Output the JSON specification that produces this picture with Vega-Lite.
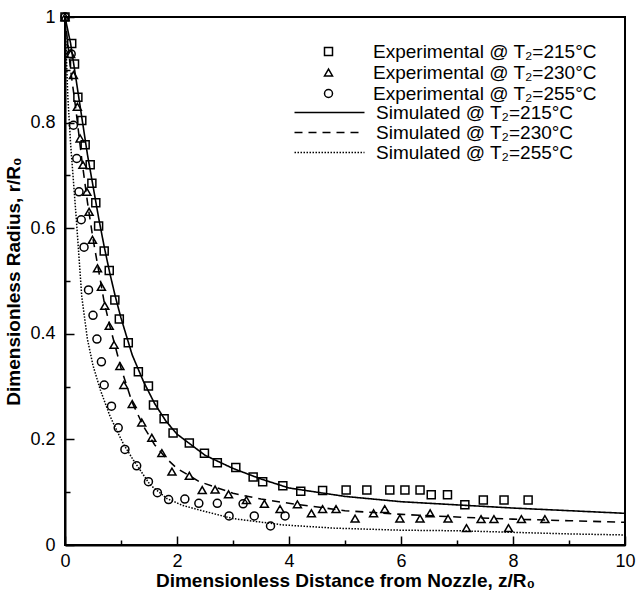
{
  "$schema": "https://vega.github.io/schema/vega-lite/v6.json",
  "width": 560,
  "height": 528,
  "autosize": {"type": "none"},
  "padding": {"left": 65, "top": 17, "right": 11, "bottom": 49},
  "background": "white",
  "config": {
    "font": "Liberation Sans",
    "view": {"stroke": "black", "strokeWidth": 2},
    "axis": {
      "domainColor": "black", "domainWidth": 2, "tickColor": "black", "tickWidth": 1.5,
      "grid": false, "labelFont": "Liberation Sans", "labelFontSize": 18, "labelColor": "black",
      "titleFont": "Liberation Sans", "titleFontSize": 19, "titleFontWeight": "bold", "titleColor": "black"
    },
    "legend": {"labelFont": "Liberation Sans", "labelFontSize": 19, "labelColor": "black", "labelLimit": 400, "rowPadding": 1, "padding": 0}
  },
  "datasets": {
    "exp": [
      {"T": "e215", "x": 0, "y": 1}, {"T": "e215", "x": 0.12, "y": 0.95}, {"T": "e215", "x": 0.17, "y": 0.911}, {"T": "e215", "x": 0.23, "y": 0.848},
      {"T": "e215", "x": 0.3, "y": 0.804}, {"T": "e215", "x": 0.36, "y": 0.758}, {"T": "e215", "x": 0.45, "y": 0.72}, {"T": "e215", "x": 0.48, "y": 0.685},
      {"T": "e215", "x": 0.55, "y": 0.648}, {"T": "e215", "x": 0.6, "y": 0.604}, {"T": "e215", "x": 0.7, "y": 0.557}, {"T": "e215", "x": 0.79, "y": 0.52},
      {"T": "e215", "x": 0.89, "y": 0.464}, {"T": "e215", "x": 0.97, "y": 0.428}, {"T": "e215", "x": 1.13, "y": 0.383}, {"T": "e215", "x": 1.31, "y": 0.328},
      {"T": "e215", "x": 1.49, "y": 0.301}, {"T": "e215", "x": 1.58, "y": 0.265}, {"T": "e215", "x": 1.77, "y": 0.239}, {"T": "e215", "x": 1.93, "y": 0.212},
      {"T": "e215", "x": 2.22, "y": 0.193}, {"T": "e215", "x": 2.49, "y": 0.174}, {"T": "e215", "x": 2.72, "y": 0.156}, {"T": "e215", "x": 3.05, "y": 0.147},
      {"T": "e215", "x": 3.36, "y": 0.129}, {"T": "e215", "x": 3.53, "y": 0.12}, {"T": "e215", "x": 3.89, "y": 0.112}, {"T": "e215", "x": 4.21, "y": 0.102},
      {"T": "e215", "x": 4.6, "y": 0.103}, {"T": "e215", "x": 5.02, "y": 0.104}, {"T": "e215", "x": 5.39, "y": 0.104}, {"T": "e215", "x": 5.8, "y": 0.104},
      {"T": "e215", "x": 6.07, "y": 0.104}, {"T": "e215", "x": 6.34, "y": 0.104}, {"T": "e215", "x": 6.54, "y": 0.095}, {"T": "e215", "x": 6.83, "y": 0.095},
      {"T": "e215", "x": 7.14, "y": 0.076}, {"T": "e215", "x": 7.47, "y": 0.085}, {"T": "e215", "x": 7.84, "y": 0.085}, {"T": "e215", "x": 8.27, "y": 0.085},
      {"T": "e230", "x": 0, "y": 1}, {"T": "e230", "x": 0.1, "y": 0.93}, {"T": "e230", "x": 0.15, "y": 0.89}, {"T": "e230", "x": 0.22, "y": 0.83},
      {"T": "e230", "x": 0.27, "y": 0.77}, {"T": "e230", "x": 0.32, "y": 0.72}, {"T": "e230", "x": 0.39, "y": 0.669}, {"T": "e230", "x": 0.43, "y": 0.631},
      {"T": "e230", "x": 0.49, "y": 0.578}, {"T": "e230", "x": 0.58, "y": 0.524}, {"T": "e230", "x": 0.65, "y": 0.489}, {"T": "e230", "x": 0.71, "y": 0.453},
      {"T": "e230", "x": 0.79, "y": 0.415}, {"T": "e230", "x": 0.875, "y": 0.379}, {"T": "e230", "x": 0.98, "y": 0.339}, {"T": "e230", "x": 1.05, "y": 0.303},
      {"T": "e230", "x": 1.2, "y": 0.267}, {"T": "e230", "x": 1.37, "y": 0.232}, {"T": "e230", "x": 1.55, "y": 0.203}, {"T": "e230", "x": 1.73, "y": 0.174},
      {"T": "e230", "x": 1.91, "y": 0.139}, {"T": "e230", "x": 2.22, "y": 0.131}, {"T": "e230", "x": 2.45, "y": 0.104}, {"T": "e230", "x": 2.68, "y": 0.105},
      {"T": "e230", "x": 2.92, "y": 0.096}, {"T": "e230", "x": 3.24, "y": 0.085}, {"T": "e230", "x": 3.56, "y": 0.078}, {"T": "e230", "x": 3.84, "y": 0.068},
      {"T": "e230", "x": 4.15, "y": 0.077}, {"T": "e230", "x": 4.4, "y": 0.06}, {"T": "e230", "x": 4.6, "y": 0.068}, {"T": "e230", "x": 4.84, "y": 0.068},
      {"T": "e230", "x": 5.18, "y": 0.05}, {"T": "e230", "x": 5.51, "y": 0.06}, {"T": "e230", "x": 5.71, "y": 0.068}, {"T": "e230", "x": 5.98, "y": 0.05},
      {"T": "e230", "x": 6.34, "y": 0.05}, {"T": "e230", "x": 6.52, "y": 0.06}, {"T": "e230", "x": 6.84, "y": 0.05}, {"T": "e230", "x": 7.17, "y": 0.032},
      {"T": "e230", "x": 7.43, "y": 0.049}, {"T": "e230", "x": 7.66, "y": 0.049}, {"T": "e230", "x": 7.92, "y": 0.032}, {"T": "e230", "x": 8.15, "y": 0.049},
      {"T": "e230", "x": 8.57, "y": 0.049},
      {"T": "e255", "x": 0, "y": 1}, {"T": "e255", "x": 0.11, "y": 0.93}, {"T": "e255", "x": 0.15, "y": 0.795}, {"T": "e255", "x": 0.21, "y": 0.732},
      {"T": "e255", "x": 0.25, "y": 0.669}, {"T": "e255", "x": 0.29, "y": 0.616}, {"T": "e255", "x": 0.34, "y": 0.564}, {"T": "e255", "x": 0.42, "y": 0.483},
      {"T": "e255", "x": 0.5, "y": 0.435}, {"T": "e255", "x": 0.57, "y": 0.39}, {"T": "e255", "x": 0.65, "y": 0.347}, {"T": "e255", "x": 0.7, "y": 0.303},
      {"T": "e255", "x": 0.83, "y": 0.263}, {"T": "e255", "x": 0.95, "y": 0.222}, {"T": "e255", "x": 1.07, "y": 0.181}, {"T": "e255", "x": 1.28, "y": 0.15},
      {"T": "e255", "x": 1.49, "y": 0.12}, {"T": "e255", "x": 1.65, "y": 0.099}, {"T": "e255", "x": 1.85, "y": 0.086}, {"T": "e255", "x": 2.14, "y": 0.087},
      {"T": "e255", "x": 2.39, "y": 0.079}, {"T": "e255", "x": 2.72, "y": 0.079}, {"T": "e255", "x": 2.93, "y": 0.055}, {"T": "e255", "x": 3.18, "y": 0.078},
      {"T": "e255", "x": 3.38, "y": 0.055}, {"T": "e255", "x": 3.67, "y": 0.036}, {"T": "e255", "x": 3.93, "y": 0.055}
    ],
    "sim": [
      {"S": "s215", "x": 0, "y": 1}, {"S": "s215", "x": 0.1, "y": 0.95}, {"S": "s215", "x": 0.2, "y": 0.88}, {"S": "s215", "x": 0.3, "y": 0.81},
      {"S": "s215", "x": 0.4, "y": 0.74}, {"S": "s215", "x": 0.5, "y": 0.68}, {"S": "s215", "x": 0.6, "y": 0.62}, {"S": "s215", "x": 0.7, "y": 0.565},
      {"S": "s215", "x": 0.8, "y": 0.515}, {"S": "s215", "x": 0.9, "y": 0.47}, {"S": "s215", "x": 1.0, "y": 0.43}, {"S": "s215", "x": 1.2, "y": 0.36},
      {"S": "s215", "x": 1.4, "y": 0.31}, {"S": "s215", "x": 1.6, "y": 0.268}, {"S": "s215", "x": 1.8, "y": 0.235}, {"S": "s215", "x": 2.0, "y": 0.21},
      {"S": "s215", "x": 2.5, "y": 0.17}, {"S": "s215", "x": 3.0, "y": 0.145}, {"S": "s215", "x": 3.5, "y": 0.125}, {"S": "s215", "x": 4.0, "y": 0.108},
      {"S": "s215", "x": 5.0, "y": 0.092}, {"S": "s215", "x": 6.0, "y": 0.082}, {"S": "s215", "x": 7.0, "y": 0.076}, {"S": "s215", "x": 8.0, "y": 0.07},
      {"S": "s215", "x": 9.0, "y": 0.065}, {"S": "s215", "x": 10.0, "y": 0.06},
      {"S": "s230", "x": 0, "y": 1}, {"S": "s230", "x": 0.1, "y": 0.9}, {"S": "s230", "x": 0.2, "y": 0.82}, {"S": "s230", "x": 0.3, "y": 0.73},
      {"S": "s230", "x": 0.4, "y": 0.65}, {"S": "s230", "x": 0.5, "y": 0.58}, {"S": "s230", "x": 0.6, "y": 0.52}, {"S": "s230", "x": 0.7, "y": 0.46},
      {"S": "s230", "x": 0.8, "y": 0.415}, {"S": "s230", "x": 0.9, "y": 0.375}, {"S": "s230", "x": 1.0, "y": 0.335}, {"S": "s230", "x": 1.2, "y": 0.27},
      {"S": "s230", "x": 1.4, "y": 0.225}, {"S": "s230", "x": 1.6, "y": 0.19}, {"S": "s230", "x": 1.8, "y": 0.165}, {"S": "s230", "x": 2.0, "y": 0.145},
      {"S": "s230", "x": 2.4, "y": 0.12}, {"S": "s230", "x": 3.0, "y": 0.098}, {"S": "s230", "x": 3.5, "y": 0.087}, {"S": "s230", "x": 4.0, "y": 0.079},
      {"S": "s230", "x": 5.0, "y": 0.065}, {"S": "s230", "x": 6.0, "y": 0.058}, {"S": "s230", "x": 7.0, "y": 0.053}, {"S": "s230", "x": 8.0, "y": 0.049},
      {"S": "s230", "x": 9.0, "y": 0.046}, {"S": "s230", "x": 10.0, "y": 0.043},
      {"S": "s255", "x": 0, "y": 1}, {"S": "s255", "x": 0.05, "y": 0.85}, {"S": "s255", "x": 0.1, "y": 0.76}, {"S": "s255", "x": 0.2, "y": 0.62},
      {"S": "s255", "x": 0.3, "y": 0.47}, {"S": "s255", "x": 0.4, "y": 0.39}, {"S": "s255", "x": 0.5, "y": 0.34}, {"S": "s255", "x": 0.63, "y": 0.294},
      {"S": "s255", "x": 0.8, "y": 0.245}, {"S": "s255", "x": 0.92, "y": 0.218}, {"S": "s255", "x": 1.05, "y": 0.19}, {"S": "s255", "x": 1.22, "y": 0.161},
      {"S": "s255", "x": 1.52, "y": 0.114}, {"S": "s255", "x": 1.82, "y": 0.088}, {"S": "s255", "x": 2.1, "y": 0.075}, {"S": "s255", "x": 2.41, "y": 0.066},
      {"S": "s255", "x": 3.0, "y": 0.05}, {"S": "s255", "x": 3.9, "y": 0.038}, {"S": "s255", "x": 4.8, "y": 0.032}, {"S": "s255", "x": 6.0, "y": 0.028},
      {"S": "s255", "x": 7.0, "y": 0.027}, {"S": "s255", "x": 8.0, "y": 0.024}, {"S": "s255", "x": 9.0, "y": 0.021}, {"S": "s255", "x": 10.0, "y": 0.019}
    ]
  },
  "layer": [
    {
      "data": {"name": "sim"},
      "mark": {"type": "line", "color": "black"},
      "encoding": {
        "x": {
          "field": "x", "type": "quantitative",
          "scale": {"domain": [0, 10], "nice": false, "zero": false},
          "axis": {
            "title": "Dimensionless Distance from Nozzle, z/R₀",
            "values": [0, 0.5, 1, 1.5, 2, 2.5, 3, 3.5, 4, 4.5, 5, 5.5, 6, 6.5, 7, 7.5, 8, 8.5, 9, 9.5, 10],
            "labelExpr": "datum.value % 2 === 0 ? format(datum.value, '~g') : ''",
            "tickSize": {"condition": {"test": "datum.value % 2 === 0", "value": -9}, "value": -5},
            "labelPadding": 16,
            "titlePadding": 1,
            "labelFlush": false
          }
        },
        "y": {
          "field": "y", "type": "quantitative",
          "scale": {"domain": [0, 1], "nice": false},
          "axis": {
            "title": "Dimensionless Radius, r/R₀",
            "values": [0, 0.05, 0.1, 0.15, 0.2, 0.25, 0.3, 0.35, 0.4, 0.45, 0.5, 0.55, 0.6, 0.65, 0.7, 0.75, 0.8, 0.85, 0.9, 0.95, 1],
            "labelExpr": "(round(datum.value * 100) % 20 === 0) ? format(datum.value, '~g') : ''",
            "tickSize": {"condition": {"test": "round(datum.value * 100) % 20 === 0", "value": -9}, "value": -5},
            "labelPadding": 19,
            "titlePadding": 6,
            "labelFlush": false
          }
        },
        "strokeDash": {
          "field": "S", "type": "nominal",
          "scale": {"domain": ["s215", "s230", "s255"], "range": [[1, 0], [8, 6], [1.5, 1.5]]},
          "legend": {
            "orient": "none", "legendX": 255, "legendY": 86, "title": null,
            "labelExpr": "'Simulated @ T₂=' + slice(datum.label, 1) + '°C'",
            "symbolType": "M-7,0H7", "symbolSize": 100, "symbolStrokeWidth": 1.6,
            "symbolStrokeColor": "black", "labelOffset": 37, "rowPadding": 0
          }
        },
        "strokeWidth": {
          "field": "S", "type": "nominal",
          "scale": {"domain": ["s215", "s230", "s255"], "range": [1.6, 1.5, 1.2]},
          "legend": null
        }
      }
    },
    {
      "data": {"name": "exp"},
      "mark": {"type": "point", "filled": false, "color": "black", "strokeWidth": 1.5, "size": 64, "opacity": 1},
      "encoding": {
        "x": {"field": "x", "type": "quantitative"},
        "y": {"field": "y", "type": "quantitative"},
        "shape": {
          "field": "T", "type": "nominal",
          "scale": {"domain": ["e215", "e230", "e255"], "range": ["square", "triangle-up", "circle"]},
          "legend": {
            "orient": "none", "legendX": 254, "legendY": 25, "title": null,
            "labelExpr": "'Experimental @ T₂=' + slice(datum.label, 1) + '°C'",
            "symbolSize": 64, "symbolStrokeWidth": 1.5, "symbolStrokeColor": "black",
            "symbolFillColor": "transparent", "labelOffset": 35, "rowPadding": 1
          }
        }
      }
    }
  ]
}
